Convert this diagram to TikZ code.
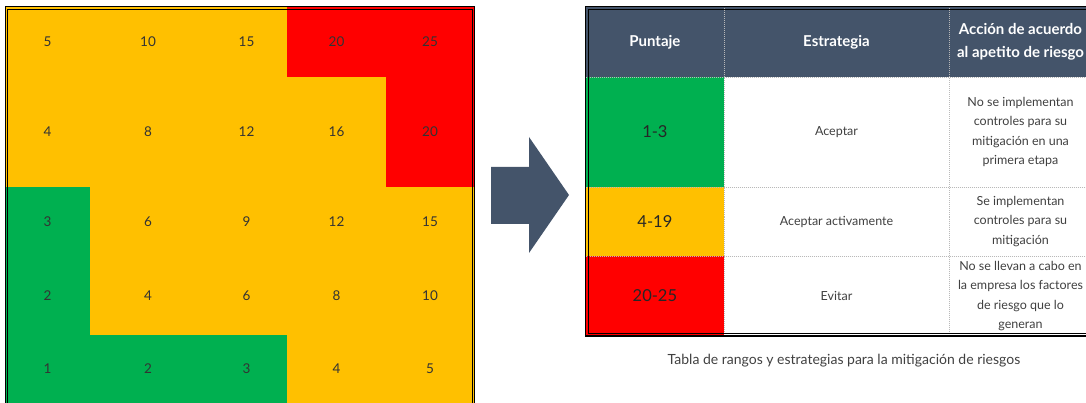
\documentclass[tikz,border=0pt]{standalone}
\usepackage{fontspec}
\setmainfont{Lato}
\definecolor{amb}{HTML}{FFC000}
\definecolor{rd}{HTML}{FF0000}
\definecolor{gr}{HTML}{00B050}
\definecolor{slate}{HTML}{44546A}
\definecolor{txt}{HTML}{404040}

\begin{document}
\begin{tikzpicture}
[	
	x=1pt,y=-1pt,
	gc/.style={rectangle,inner sep=0,text=black!80,font=\fontsize{13.5}{16}\selectfont},
	w1/.style={minimum width=85pt},
	w2/.style={minimum width=116pt},
	w3/.style={minimum width=81pt},
	w4/.style={minimum width=99pt},
	w5/.style={minimum width=88pt},
	h1/.style={minimum height=70.5pt},
	h2/.style={minimum height=110pt},
	h3/.style={minimum height=70pt},
	h4/.style={minimum height=78pt},
	h5/.style={minimum height=68pt},
	hd/.style={rectangle,inner sep=0,fill=slate,text=white,align=center,minimum height=70.3pt,font=\bfseries\fontsize{15}{22.5}\selectfont},
	sc/.style={rectangle,inner sep=0,text=black!85,font=\fontsize{16.5}{20}\selectfont},
	tc/.style={rectangle,inner sep=0,fill=white,text=txt,align=center,font=\fontsize{12.5}{19.5}\selectfont},
	tw1/.style={minimum width=138.3pt},
	tw2/.style={minimum width=225pt},
	tw3/.style={minimum width=143pt},
	th1/.style={minimum height=110pt},
	th2/.style={minimum height=69pt},
	th3/.style={minimum height=80pt},
	sep/.style={gray!55,line width=0.6pt,dash pattern=on 1pt off 1pt}
]
\useasboundingbox (0,0) rectangle (1086,403);

% risk matrix
\node[gc,fill=amb,w1,h1] (g11) at (47.5,41.75) {5};
\node[gc,fill=amb,w2,h1] (g12) at (148,41.75) {10};
\node[gc,fill=amb,w3,h1] (g13) at (246.5,41.75) {15};
\node[gc,fill=rd,w4,h1] (g14) at (336.5,41.75) {20};
\node[gc,fill=rd,w5,h1] (g15) at (430,41.75) {25};

\node[gc,fill=amb,w1,h2] (g21) at (47.5,132) {4};
\node[gc,fill=amb,w2,h2] (g22) at (148,132) {8};
\node[gc,fill=amb,w3,h2] (g23) at (246.5,132) {12};
\node[gc,fill=amb,w4,h2] (g24) at (336.5,132) {16};
\node[gc,fill=rd,w5,h2] (g25) at (430,132) {20};

\node[gc,fill=gr,w1,h3] (g31) at (47.5,222) {3};
\node[gc,fill=amb,w2,h3] (g32) at (148,222) {6};
\node[gc,fill=amb,w3,h3] (g33) at (246.5,222) {9};
\node[gc,fill=amb,w4,h3] (g34) at (336.5,222) {12};
\node[gc,fill=amb,w5,h3] (g35) at (430,222) {15};

\node[gc,fill=gr,w1,h4] (g41) at (47.5,296) {2};
\node[gc,fill=amb,w2,h4] (g42) at (148,296) {4};
\node[gc,fill=amb,w3,h4] (g43) at (246.5,296) {6};
\node[gc,fill=amb,w4,h4] (g44) at (336.5,296) {8};
\node[gc,fill=amb,w5,h4] (g45) at (430,296) {10};

\node[gc,fill=gr,w1,h5] (g51) at (47.5,369) {1};
\node[gc,fill=gr,w2,h5] (g52) at (148,369) {2};
\node[gc,fill=gr,w3,h5] (g53) at (246.5,369) {3};
\node[gc,fill=amb,w4,h5] (g54) at (336.5,369) {4};
\node[gc,fill=amb,w5,h5] (g55) at (430,369) {5};

\draw[line width=1pt] (5,6.5) rectangle (474,420);
\draw[line width=0.8pt] (7.5,9) rectangle (472,420);

% arrow
\fill[slate] (491,167) -- (529,167) -- (529,137) -- (569,195) -- (529,253) -- (529,224) -- (491,224) -- cycle;

% table
\node[hd,tw1] (hp) at (654.9,41.85) {Puntaje};
\node[hd,tw2] (he) at (836.5,41.85) {Estrategia};
\node[hd,tw3] (ha) at (1020.5,41.85) {Acción de acuerdo\\al apetito de riesgo};

\node[sc,fill=gr,tw1,th1] (s1) at (654.9,132) {1-3};
\node[tc,tw2,th1] (e1) at (836.5,132) {Aceptar};
\node[tc,tw3,th1] (a1) at (1020.5,132) {No se implementan\\controles para su\\mitigación en una\\primera etapa};

\node[sc,fill=amb,tw1,th2] (s2) at (654.9,221.5) {4-19};
\node[tc,tw2,th2] (e2) at (836.5,221.5) {Aceptar activamente};
\node[tc,tw3,th2] (a2) at (1020.5,221.5) {Se implementan\\controles para su\\mitigación};

\node[sc,fill=rd,tw1,th3] (s3) at (654.9,296) {20-25};
\node[tc,tw2,th3] (e3) at (836.5,296) {Evitar};
\node[tc,tw3,th3] (a3) at (1020.5,296) {No se llevan a cabo en\\la empresa los factores\\de riesgo que lo\\generan};

\draw[sep] (hp.north east) -- (s3.south east);
\draw[sep] (he.north east) -- (e3.south east);
\draw[sep] (hp.south west) -- (ha.south east);
\draw[sep] (s1.south west) -- (a1.south east);
\draw[sep] (s2.south west) -- (a2.south east);

\draw[line width=1.2pt] (585.7,6.7) rectangle (1100,336);
\draw[line width=0.8pt] (588.3,9.3) rectangle (1097,333.7);

\node[text=txt,font=\fontsize{14}{16}\selectfont] (cap) at (844,361) {Tabla de rangos y estrategias para la mitigación de riesgos};

\end{tikzpicture}
\end{document}
